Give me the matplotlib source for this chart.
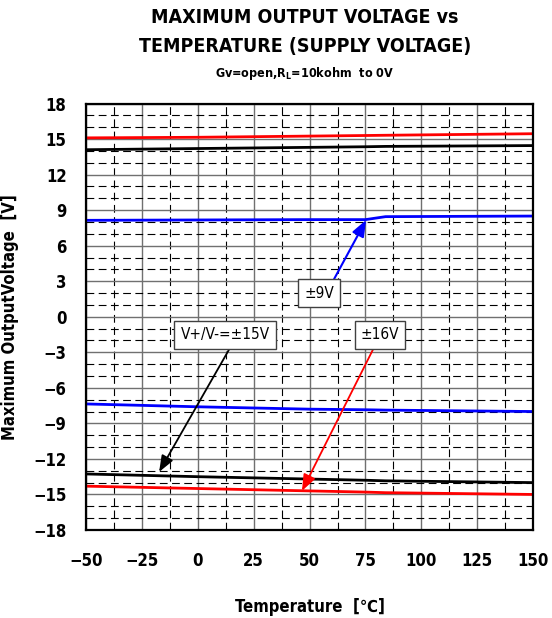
import matplotlib
matplotlib.use("Agg")
import matplotlib.pyplot as plt
from matplotlib.ticker import MultipleLocator

plt.rcParams['font.family'] = ['DejaVu Sans']
plt.rcParams['font.stretch'] = 'condensed'
plt.rcParams['font.weight'] = 'bold'

# temperature points (degC)
temp = [-50, 0, 50, 75, 84, 150]

# positive output swing
pos_16v = [15.1, 15.15, 15.25, 15.3, 15.32, 15.45]
pos_15v = [14.1, 14.2, 14.3, 14.35, 14.38, 14.45]
pos_9v = [8.14, 8.17, 8.2, 8.2, 8.45, 8.5]

# negative output swing
neg_9v = [-7.36, -7.6, -7.8, -7.85, -7.88, -8.0]
neg_15v = [-13.27, -13.5, -13.7, -13.8, -13.85, -14.0]
neg_16v = [-14.3, -14.5, -14.7, -14.8, -14.85, -15.0]

xticks = [-50, -25, 0, 25, 50, 75, 100, 125, 150]
yticks = list(range(-18, 19, 3))

fig = plt.figure(figsize=(5.52, 6.18), dpi=100)
ax = fig.add_axes([0.1558, 0.1424, 0.81, 0.6901])

ax.set_xlim(-50, 150)
ax.set_ylim(-18, 18)
ax.xaxis.set_minor_locator(MultipleLocator(12.5))
ax.yaxis.set_minor_locator(MultipleLocator(1))
ax.set_xticks(xticks)
ax.set_yticks(yticks)

ax.grid(which='major', color='#707070', lw=1.0, ls='-')
ax.grid(which='minor', color='black', lw=0.8, ls=(0, (7, 4)))
ax.set_axisbelow(True)
ax.tick_params(which='both', length=0, labelsize=12)
ax.tick_params(axis='y', pad=14)
ax.tick_params(axis='x', pad=16)
for lab in ax.get_xticklabels() + ax.get_yticklabels():
    lab.set_fontweight('bold')
for sp in ax.spines.values():
    sp.set_linewidth(1.6)
    sp.set_color('black')

ax.plot(temp, pos_16v, color='red', lw=2)
ax.plot(temp, pos_15v, color='black', lw=2)
ax.plot(temp, pos_9v, color='blue', lw=2)
ax.plot(temp, neg_9v, color='blue', lw=2)
ax.plot(temp, neg_15v, color='black', lw=2)
ax.plot(temp, neg_16v, color='red', lw=2)

box = dict(boxstyle='square,pad=0.4', fc='white', ec='#404040', lw=1)
ax.annotate('±9V', xy=(75.3, 8.17), xytext=(54.2, 2.0), ha='center', va='center',
            fontsize=11, fontweight='normal', bbox=box,
            arrowprops=dict(arrowstyle='-|>,head_length=0.9,head_width=0.35', color='blue',
                            lw=1.5, relpos=(0.89, 1.0), shrinkA=0, shrinkB=0))
ax.annotate('V+/V-=±15V', xy=(-17.3, -13.1), xytext=(12.2, -1.54), ha='center', va='center',
            fontsize=11, fontweight='normal', bbox=box,
            arrowprops=dict(arrowstyle='-|>,head_length=0.9,head_width=0.35', color='black',
                            lw=1.3, relpos=(0.59, 0.0), shrinkA=0, shrinkB=0))
ax.annotate('±16V', xy=(46.6, -14.7), xytext=(81.5, -1.54), ha='center', va='center',
            fontsize=11, fontweight='normal', bbox=box,
            arrowprops=dict(arrowstyle='-|>,head_length=0.9,head_width=0.35', color='red',
                            lw=1.3, relpos=(0.41, 0.0), shrinkA=0, shrinkB=0))

ax.set_xlabel('Temperature  [℃]', fontsize=12, fontweight='bold', labelpad=20)
ax.set_ylabel('Maximum OutputVoltage  [V]', fontsize=12, fontweight='bold', labelpad=10)

fig.text(0.552, 0.971, 'MAXIMUM OUTPUT VOLTAGE vs', ha='center', va='center',
         fontsize=14, fontweight='bold')
fig.text(0.552, 0.924, 'TEMPERATURE (SUPPLY VOLTAGE)', ha='center', va='center',
         fontsize=14, fontweight='bold')
fig.text(0.552, 0.881, 'Gv=open,R$_\\mathregular{L}$=10kohm  to 0V', ha='center', va='center',
         fontsize=9, fontweight='bold')

fig.savefig('out.png', dpi=100)
